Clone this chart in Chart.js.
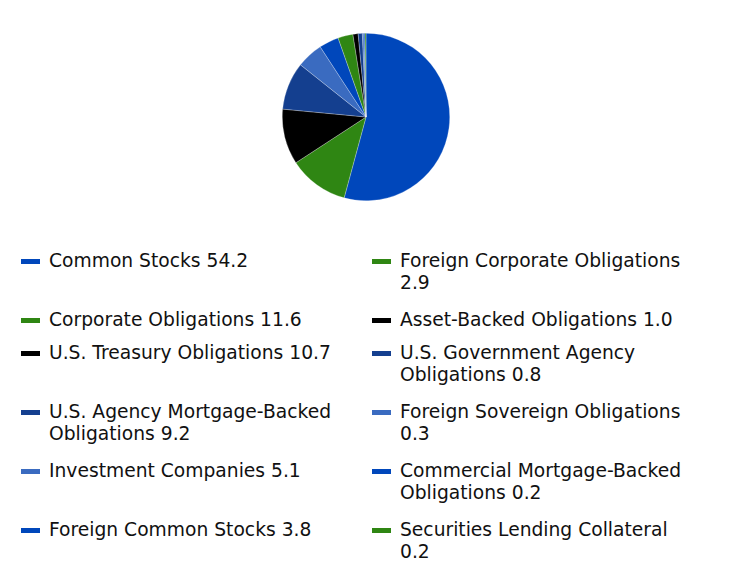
<!DOCTYPE html>
<html>
<head>
<meta charset="utf-8">
<script src="https://cdn.jsdelivr.net/npm/chart.js@4"></script>
<style>
  body{margin:0;background:#fff;width:732px;height:564px;overflow:hidden;font-family:"DejaVu Sans",sans-serif;}
  #pieBox{position:absolute;left:282px;top:33px;width:168px;height:168px;}
  #legend{position:absolute;left:21px;top:250px;display:grid;grid-template-columns:351px 340px;grid-auto-flow:column;
    grid-template-rows:59px 33px 59px 59px 59px 59px;}
  .item{display:flex;align-items:flex-start;font-size:18.7px;line-height:22px;color:#111;}
  .sw{flex:0 0 19px;height:5px;margin-top:9px;margin-right:9px;}
  .txt{width:300px;}
</style>
</head>
<body>
<div id="pieBox"><canvas id="pie"></canvas></div>
<div id="legend"></div>
<script>
const LABELS = ['Common Stocks','Corporate Obligations','U.S. Treasury Obligations','U.S. Agency Mortgage-Backed Obligations',
  'Investment Companies','Foreign Common Stocks','Foreign Corporate Obligations','Asset-Backed Obligations',
  'U.S. Government Agency Obligations','Foreign Sovereign Obligations','Commercial Mortgage-Backed Obligations','Securities Lending Collateral'];
const VALUES = [54.2,11.6,10.7,9.2,5.1,3.8,2.9,1.0,0.8,0.3,0.2,0.2];
const COLORS = ['#0047bb','#2f8613','#000000','#143f8f','#3a6bc0','#0047bb','#2f8613','#000000','#143f8f','#3a6bc0','#0047bb','#2f8613'];

// legend (html, so long names can wrap like the original)
const lg = document.getElementById('legend');
LABELS.forEach((l,i)=>{
  const d = document.createElement('div'); d.className='item';
  d.innerHTML = `<span class="sw" style="background:${COLORS[i]}"></span><span class="txt">${l} ${VALUES[i].toFixed(1)}</span>`;
  lg.appendChild(d);
});

new Chart(document.getElementById('pie').getContext('2d'), {
  type:'pie',
  data:{labels:LABELS,datasets:[{data:VALUES,backgroundColor:COLORS,borderColor:'rgba(255,255,255,0.5)',borderWidth:0.5}]},
  options:{responsive:true,maintainAspectRatio:false,animation:false,
    plugins:{legend:{display:false},tooltip:{enabled:false}},layout:{padding:0}}
});
</script>
</body>
</html>
